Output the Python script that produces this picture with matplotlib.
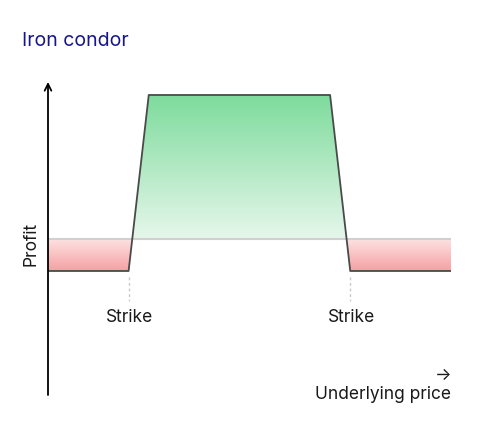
import numpy as np
import matplotlib.pyplot as plt
from matplotlib.colors import LinearSegmentedColormap
from matplotlib.path import Path

plt.rcParams['font.family'] = ['Inter', 'DejaVu Sans']

#########
# DATA
#########

# payoff of the iron condor (price in arbitrary units, profit in units of max loss)
price = [0, 20, 25, 70, 75, 100]
profit = [-1, -1, 4.5, 4.5, -1, -1]
strikes = [20, 75]
strike_label = "Strike"
title = "Iron condor"
xlabel = "Underlying price"
ylabel = "Profit"

#########
# FIGURE
#########

fig = plt.figure(figsize=(5, 4.4), dpi=100)
ax = fig.add_axes([48 / 500, 45 / 440, 403 / 500, 313 / 440])
ax.set_xlim(0, 100)
ax.set_ylim(-4.875, 4.906)
ax.axis('off')

px = np.array(price, dtype=float)
py = np.array(profit, dtype=float)
top = py.max()
low = py.min()
grad = np.linspace(0, 1, 256).reshape(-1, 1)


def clip_region(where):
    # invisible fill_between just to get the region outline
    coll = ax.fill_between(px, py, 0, where=where, interpolate=True,
                           facecolor='none', edgecolor='none')
    path = Path.make_compound_path(*coll.get_paths())
    return path


# green gradient above zero
green = LinearSegmentedColormap.from_list('g', ['#e6f7eb', '#7ddb9c'])
im = ax.imshow(grad, cmap=green, origin='lower', aspect='auto',
               extent=(0, 100, 0, top), zorder=1)
im.set_clip_path(clip_region(py >= 0), transform=ax.transData)

# red gradient below zero
red = LinearSegmentedColormap.from_list('r', ['#f5a1a3', '#fde3e3'])
im2 = ax.imshow(grad, cmap=red, origin='lower', aspect='auto',
                extent=(0, 100, low, 0), zorder=1)
im2.set_clip_path(clip_region(py <= 0), transform=ax.transData)

ax.set_xlim(0, 100)
ax.set_ylim(-4.875, 4.906)

# zero line
ax.plot([0, 100], [0, 0], color='#d0d0d0', lw=1.5, zorder=2)

# payoff line
ax.plot(price, profit, color='#4a4a4a', lw=1.3, zorder=3)

# strike markers
for s in strikes:
    ax.plot([s, s], [low - 0.2, low - 0.95], color='#c8c8c8', lw=1,
            ls=(0, (2, 2)), zorder=2)
    ax.text(s + 0.3, -2.44, strike_label, ha='center', va='center',
            fontsize=12.5, color='#1a1a1a')

# y axis arrow
ax.annotate('', xy=(0, 4.906), xytext=(0, -4.875),
            arrowprops=dict(arrowstyle='->', lw=1.3, color='black',
                            mutation_scale=12, shrinkA=0, shrinkB=0),
            annotation_clip=False)

fig.text(31 / 500, 1 - 244 / 440, ylabel, rotation=90, ha='center',
         va='center', fontsize=12.5, color='#1a1a1a')
fig.text(451 / 500, 1 - 394 / 440, xlabel, ha='right', va='center',
         fontsize=12.5, color='#1a1a1a')
fig.text(451 / 500, 1 - 375 / 440, '→', ha='right', va='center',
         fontsize=12.5, color='#1a1a1a')
fig.text(22 / 500, 1 - 41 / 440, title, ha='left', va='center',
         fontsize=14, color='#16168a')

fig.savefig('out.png', dpi=100)
